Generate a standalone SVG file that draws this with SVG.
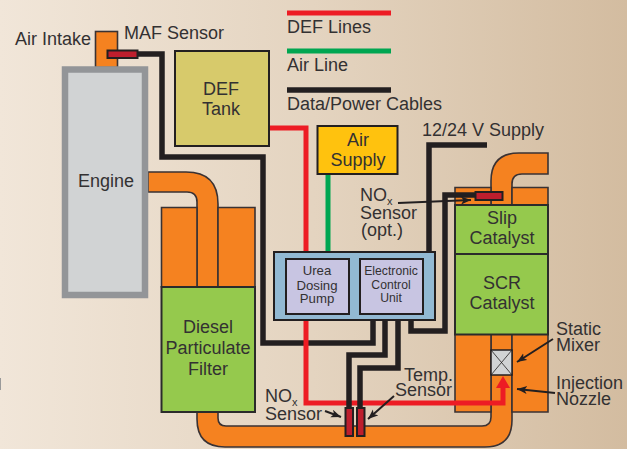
<svg xmlns="http://www.w3.org/2000/svg" width="627" height="449" viewBox="0 0 627 449">
<defs>
<linearGradient id="bg" x1="0" y1="0" x2="1" y2="0"><stop offset="0" stop-color="#f1e6d9"/><stop offset="0.5" stop-color="#e4d4c0"/><stop offset="1" stop-color="#d3bca0"/></linearGradient>
<marker id="ah" markerUnits="userSpaceOnUse" markerWidth="12" markerHeight="10" refX="10" refY="4" orient="auto"><path d="M0 0L10 4L0 8L2.5 4Z" fill="#231f20"/></marker>
</defs>
<style>
text{font-family:"Liberation Sans",Arial,sans-serif;fill:#333132;font-size:18px}
.m{text-anchor:middle}
.s{font-size:13.200px;text-anchor:middle}
.e{font-size:12.200px;text-anchor:middle}
.o{fill:#f58220;stroke:#3a3233;stroke-width:1.6}
.g{fill:#95c94d;stroke:#2b2b2b;stroke-width:2}
.u{fill:#c8c5e2;stroke:#231f20;stroke-width:2}
.k,.r,.n{fill:none;stroke-width:5}
.k{stroke:#231f20;stroke-width:5.500}.r{stroke:#ed1c24}.n{stroke:#00a651}
.z{fill:#be1e2d;stroke:#231f20;stroke-width:2}
.l{fill:none;stroke:#231f20;stroke-width:2;marker-end:url(#ah)}
</style>
<rect width="627" height="449" fill="url(#bg)"/>
<rect x="0" y="378" width="1" height="12" fill="#9a9a9a"/>
<g id="intake"><rect class="o" x="95.500" y="31.500" width="22" height="36"/></g>
<g id="exhaust">
<path class="o" d="M148 172H186Q218 172 218 204V290H197V202Q197 192 187 192H148Z"/>
<path class="o" d="M197 410H218V418Q218 426 226 426H482Q491 426 491 417V330H512V420Q512 447 485 447H225Q197 447 197 419Z"/>
<path class="o" d="M491 207V181Q491 153 519 153H548V174H522Q512 174 512 184V207Z"/>
</g>
<g id="dpf">
<path class="o" d="M161.500 207.500H197V287H161.500ZM218 207.500H255V287H218Z"/>
<rect class="g" x="161.500" y="287" width="93.500" height="125"/>
<text class="m" x="208" y="333">Diesel</text><text class="m" x="208" y="354">Particulate</text><text class="m" x="208" y="375">Filter</text>
</g>
<g id="scr">
<path class="o" d="M455 187.500H491V205H455ZM512 187.500H548V205H512Z"/>
<path class="o" d="M455 334H491V412H455ZM512 334H548V412H512Z"/>
<rect class="g" x="455" y="205" width="93" height="49"/>
<rect class="g" x="455" y="254" width="93" height="80.500"/>
<text class="m" x="502" y="224">Slip</text><text class="m" x="502" y="244">Catalyst</text>
<text class="m" x="502" y="289">SCR</text><text class="m" x="502" y="309">Catalyst</text>
</g>
<g id="engine"><rect x="65" y="69.500" width="80" height="225.500" fill="#d1d3d4" stroke="#939598" stroke-width="6.500"/><text class="m" x="106" y="187">Engine</text></g>
<g id="connectors">
<path class="k" d="M138 54H162V157H263V343H373V316"/>
<path class="r" d="M269 128H306V403H503V385"/>
<path d="M503 376L510 388H496Z" fill="#ed1c24"/>
<path class="n" d="M328 174V260"/>
<path class="k" d="M429 252V145H487"/>
<path class="k" d="M385 316V355H349V408"/>
<path class="k" d="M398 316V368H360V408"/>
<path class="k" d="M411 316V331H445V195H476"/>
</g>
<g id="legend">
<path class="r" d="M287 13H391"/><path class="n" d="M287 51H391"/><path class="k" d="M287 90H391"/>
<text x="287" y="33">DEF Lines</text><text x="287" y="71">Air Line</text><text x="287" y="110">Data/Power Cables</text>
</g>
<g id="maf"><rect class="z" x="107.500" y="50.500" width="30" height="7.500"/><text x="124" y="39">MAF Sensor</text><text x="15" y="45">Air Intake</text></g>
<g id="def-tank"><rect x="175" y="51" width="94" height="95" fill="#d7ca6b" stroke="#231f20" stroke-width="2"/><text class="m" x="221" y="95">DEF</text><text class="m" x="221" y="115">Tank</text></g>
<g id="air-supply"><rect x="317.500" y="126" width="80" height="48" fill="#ffc20e" stroke="#231f20" stroke-width="2"/><text class="m" x="358" y="146">Air</text><text class="m" x="358" y="166">Supply</text></g>
<g id="ctrl"><rect x="274" y="252" width="161" height="68" fill="#92b9d3" stroke="#231f20" stroke-width="2"/></g>
<g id="pump"><rect class="u" x="286" y="259" width="63" height="55"/><text class="s" x="317" y="275">Urea</text><text class="s" x="317" y="290">Dosing</text><text class="s" x="317" y="303">Pump</text></g>
<g id="ecu"><rect class="u" x="360" y="259" width="63" height="55"/><text class="e" x="391" y="275">Electronic</text><text class="e" x="391" y="289">Control</text><text class="e" x="391" y="302">Unit</text></g>
<g id="mixer"><rect x="491" y="350" width="21" height="25" fill="#d1d3d4" stroke="#231f20" stroke-width="1.500"/><path d="M491 350L512 375M512 350L491 375" stroke="#231f20" stroke-width=".8"/></g>
<g id="nox-opt"><rect class="z" x="475.500" y="192" width="27" height="8"/></g>
<g id="sensors"><rect class="z" x="345.500" y="408" width="7.500" height="28"/><rect class="z" x="357" y="408" width="7.500" height="28"/></g>
<g id="labels">
<path class="l" d="M398 203L471 200"/><path class="l" d="M553 339L517 362"/><path class="l" d="M555 393L517 389"/><path class="l" d="M394 396L368 419"/><path class="l" d="M325 411L341 417"/>
<text x="422" y="136">12/24 V Supply</text>
<text x="360" y="201">NO<tspan font-size="11" dy="4">x</tspan></text><text x="360" y="219">Sensor</text><text x="361" y="236">(opt.)</text>
<text x="556" y="335">Static</text><text x="556" y="351">Mixer</text><text x="556" y="389">Injection</text><text x="556" y="405">Nozzle</text>
<text x="404" y="381">Temp.</text><text x="395" y="396">Sensor</text>
<text x="265" y="402">NO<tspan font-size="11" dy="4">x</tspan></text><text x="265" y="420">Sensor</text>
</g>
</svg>
